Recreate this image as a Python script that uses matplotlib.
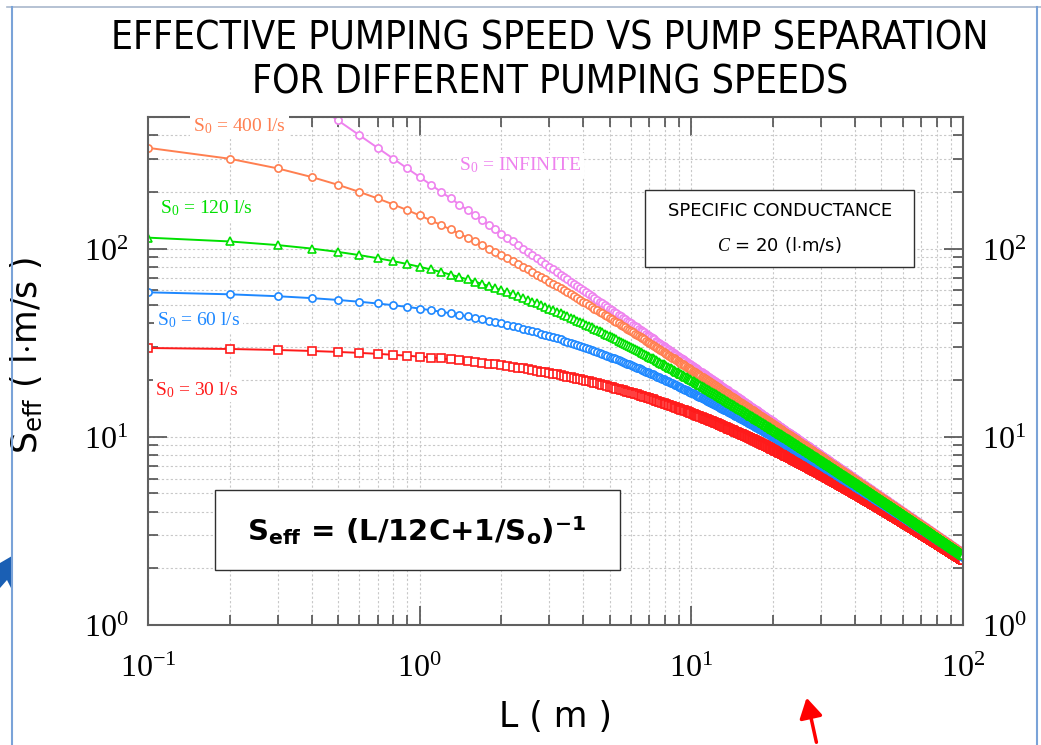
import numpy as np
import matplotlib
matplotlib.use("Agg")
import matplotlib.pyplot as plt
from matplotlib.patches import Rectangle, Polygon, FancyArrowPatch
from matplotlib.lines import Line2D
from matplotlib.ticker import LogLocator, FuncFormatter, NullFormatter

plt.rcParams['mathtext.fontset'] = 'custom'
plt.rcParams['mathtext.rm'] = 'Liberation Serif'
plt.rcParams['mathtext.it'] = 'Liberation Serif:italic'
plt.rcParams['mathtext.sf'] = 'DejaVu Sans'
plt.rcParams['mathtext.bf'] = 'DejaVu Sans:bold'

# ---- data ----
C = 20.0                                   # specific conductance (l*m/s)
S0_values = [np.inf, 400.0, 30.0, 60.0, 120.0]   # draw order
series_names = ["S0 = INFINITE", "S0 = 400 l/s", "S0 = 30 l/s", "S0 = 60 l/s", "S0 = 120 l/s"]
series_colors = ["#ee82ee", "#ff7f50", "#ff1a1a", "#1e88ff", "#00e000"]
series_markers = ["o", "o", "s", "o", "^"]
L_values = np.round(np.arange(1, 1001) * 0.1, 1)   # pump separation (m), sampled every 0.1 m

def seff(L, S0):
    return 1.0 / (L / (12.0 * C) + 1.0 / S0)

W, H = 1041, 745
fig = plt.figure(figsize=(W / 100, H / 100), dpi=100)
ax = fig.add_axes([148 / W, 1 - 625 / H, (963 - 148) / W, (625 - 117) / H])

for S0, col, mk in zip(S0_values, series_colors, series_markers):
    ax.plot(L_values, seff(L_values, S0), color=col, lw=1.4, marker=mk,
            markersize=5.2, markerfacecolor='white', markeredgecolor=col,
            markeredgewidth=1.2)

ax.set_xscale('log')
ax.set_yscale('log')
ax.set_xlim(0.1, 100)
ax.set_ylim(1, 500)

ax.xaxis.set_major_locator(LogLocator(base=10, numticks=10))
ax.yaxis.set_major_locator(LogLocator(base=10, numticks=10))
ax.xaxis.set_minor_locator(LogLocator(base=10, subs=np.arange(2, 10), numticks=20))
ax.yaxis.set_minor_locator(LogLocator(base=10, subs=np.arange(2, 10), numticks=20))
fmt = FuncFormatter(lambda v, p: r"$\mathrm{10^{%d}}$" % int(round(np.log10(v))))
ax.xaxis.set_major_formatter(fmt)
ax.yaxis.set_major_formatter(fmt)
ax.xaxis.set_minor_formatter(NullFormatter())
ax.yaxis.set_minor_formatter(NullFormatter())

ax.tick_params(which='both', direction='in', top=True, right=True,
               labelright=True, color='#505050', width=1.2)
ax.tick_params(which='major', length=14, labelsize=23)
ax.tick_params(axis='x', which='major', pad=20)
ax.tick_params(axis='y', which='major', pad=14)
ax.tick_params(which='minor', length=7)
ax.grid(True, which='both', ls=(0, (2, 2)), color='#c8c8c8', lw=0.8)
for s in ax.spines.values():
    s.set_color('#606060')
    s.set_linewidth(1.5)

ax.set_xlabel("L ( m )", fontsize=25, family='DejaVu Sans', labelpad=12)
ax.set_ylabel(r"S$_\mathsf{eff}$ ( l$\cdot$m/s )", fontsize=25, family='DejaVu Sans')
ax.yaxis.set_label_coords(-0.127, 0.53)

# series labels
lab_kw = dict(transform=ax.transAxes, family='Liberation Serif', fontsize=14,
              va='center', ha='left', zorder=6,
              bbox=dict(facecolor='white', edgecolor='none', pad=2))
ax.text(0.055, 0.982, r"S$_0$ = 400 l/s", color=series_colors[1], clip_on=False, **lab_kw)
ax.text(0.382, 0.905, r"S$_0$ = INFINITE", color=series_colors[0], **lab_kw)
ax.text(0.015, 0.821, r"S$_0$ = 120 l/s", color=series_colors[4], **lab_kw)
ax.text(0.011, 0.600, r"S$_0$ = 60 l/s", color=series_colors[3], **lab_kw)
ax.text(0.009, 0.463, r"S$_0$ = 30 l/s", color=series_colors[2], **lab_kw)

# conductance box
ax.add_patch(Rectangle((0.610, 0.705), 0.330, 0.151, transform=ax.transAxes,
                       facecolor='white', edgecolor='#303030', lw=1.0, zorder=5))
ax.text(0.775, 0.815, "SPECIFIC CONDUCTANCE", transform=ax.transAxes, ha='center',
        va='center', fontsize=13, family='DejaVu Sans', zorder=6)
ax.text(0.775, 0.748, r"$\mathit{C}$ = 20 (l$\cdot$m/s)", transform=ax.transAxes, ha='center',
        va='center', fontsize=13, family='DejaVu Sans', zorder=6)

# formula box
ax.add_patch(Rectangle((0.0822, 0.108), 0.497, 0.158, transform=ax.transAxes,
                       facecolor='white', edgecolor='#303030', lw=1.0, zorder=5))
ax.text(0.33, 0.185, r"S$_\mathbf{eff}$ = (L/12C+1/S$_\mathbf{o}$)$^\mathbf{-1}$",
        transform=ax.transAxes, ha='center', va='center', fontsize=21,
        family='DejaVu Sans', fontweight='bold', zorder=6)

# title
fig.text(550 / W, 1 - 38 / H, "EFFECTIVE PUMPING SPEED VS PUMP SEPARATION",
         ha='center', va='center', fontsize=28, family='DejaVu Sans', fontstretch='condensed')
fig.text(550 / W, 1 - 83 / H, "FOR DIFFERENT PUMPING SPEEDS",
         ha='center', va='center', fontsize=28, family='DejaVu Sans', fontstretch='condensed')

# slide decorations
bc = '#7aa3d8'
fig.add_artist(Line2D([7 / W, 1], [1 - 7 / H, 1 - 7 / H], transform=fig.transFigure, color='#a9b8cc', lw=1.2))
fig.add_artist(Line2D([12 / W, 12 / W], [0, 1 - 7 / H], transform=fig.transFigure, color=bc, lw=1.5))
fig.add_artist(Line2D([1037 / W, 1037 / W], [0, 1 - 7 / H], transform=fig.transFigure, color=bc, lw=1.5))
pts = [(0, 563), (12, 556), (12, 590), (7, 580), (0, 588)]
fig.add_artist(Polygon([(x / W, 1 - y / H) for x, y in pts], closed=True,
                       transform=fig.transFigure, facecolor='#1a5fb4', edgecolor='none'))
fig.add_artist(FancyArrowPatch(
    (817 / W, 0.0), (806 / W, 1 - 695 / H), transform=fig.transFigure,
    arrowstyle='-|>,head_length=6,head_width=3.5', color='#ff0000', lw=2.5, mutation_scale=2))

fig.savefig("out.png", dpi=100, facecolor='white')
